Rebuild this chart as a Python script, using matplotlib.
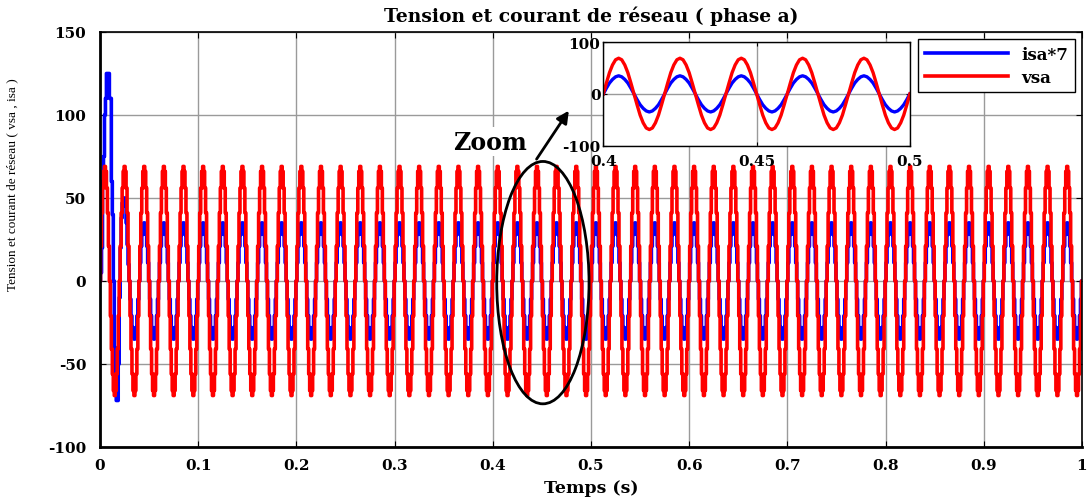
import numpy as np
import matplotlib
matplotlib.use('Agg')
import matplotlib.pyplot as plt
from matplotlib.patches import Ellipse

vsa_period = [0, 21, 41, 56, 66, 69, 66, 56, 41, 21,
              0, -21, -41, -56, -66, -69, -66, -56, -41, -21]
isa7_period = [0, 11, 21, 28, 33, 35, 33, 28, 21, 11,
               0, -11, -21, -28, -33, -35, -33, -28, -21, -11]
# start-up transient of isa*7 for the first 30 ms
isa7_start = [0, 5, 20, 60, 75, 100, 110, 125, 125, 125,
              110, 110, 60, 40, 0, -40, -65, -72, -72, -50,
              -10, 20, 38, 47, 50, 50, 45, 35, 22, 10]
dt = 0.001
n_periods = 50

xticks = [0, 0.1, 0.2, 0.3, 0.4, 0.5, 0.6, 0.7, 0.8, 0.9, 1]
xtick_labels = ['0', '0.1', '0.2', '0.3', '0.4', '0.5', '0.6', '0.7', '0.8', '0.9', '1']
yticks = [-100, -50, 0, 50, 100, 150]
ins_xticks = [0.4, 0.45, 0.5]
ins_xtick_labels = ['0.4', '0.45', '0.5']
ins_yticks = [-100, 0, 100]

# build the series
vsa = np.append(np.tile(vsa_period, n_periods), vsa_period[0])
isa7 = np.append(np.tile(isa7_period, n_periods), isa7_period[0]).astype(float)
isa7[:len(isa7_start)] = isa7_start
t = np.arange(len(vsa)) * dt

bold = dict(family='DejaVu Serif', weight='bold')

fig = plt.figure(figsize=(10.91, 5.02), dpi=100)
ax = fig.add_axes([0.0917, 0.1076, 0.9, 0.8267])

ax.plot(t, isa7, color='#0000ff', lw=2.6, drawstyle='steps-mid', label='isa*7')
ax.plot(t, vsa, color='#ff0000', lw=2.6, drawstyle='steps-mid', label='vsa')

ax.set_xlim(0, 1)
ax.set_ylim(-100, 150)
ax.set_xticks(xticks)
ax.set_xticklabels(xtick_labels, fontsize=11, **bold)
ax.set_yticks(yticks)
ax.set_yticklabels([str(v) for v in yticks], fontsize=11, **bold)
ax.tick_params(direction='in', top=True, right=True, length=4)
ax.tick_params(axis='x', pad=8)
ax.tick_params(axis='y', pad=10)
ax.grid(True, color='#9a9a9a', lw=1)
ax.set_axisbelow(True)
for s in ['left', 'bottom']:
    ax.spines[s].set_linewidth(2)
for s in ['top', 'right']:
    ax.spines[s].set_linewidth(1.2)

ax.set_title('Tension et courant de réseau ( phase a)', fontsize=13.5, pad=8, **bold)
ax.set_xlabel('Temps (s)', fontsize=12.5, labelpad=5, **bold)
ax.set_ylabel('Tension et courant de réseau ( vsa , isa )', family='Liberation Serif',
              fontsize=9.5)
ax.yaxis.set_label_coords(-0.083, 0.634)

# zoom marker
ax.add_patch(Ellipse((0.451, -1), 0.094, 146, fill=False, lw=2, color='black', zorder=5))
ax.annotate('', xy=(0.479, 104), xytext=(0.443, 72),
            arrowprops=dict(arrowstyle='-|>', lw=2, color='black', mutation_scale=18))
ax.text(0.3975, 84, 'Zoom', fontsize=17, ha='center', va='center', zorder=6,
        bbox=dict(facecolor='white', edgecolor='none', pad=2), **bold)

leg = ax.legend(loc='upper right', bbox_to_anchor=(0.9853, 0.920), bbox_transform=fig.transFigure,
                fancybox=False, edgecolor='black', framealpha=1, handlelength=5,
                borderaxespad=0, labelspacing=0.35,
                prop=dict(family='DejaVu Serif', weight='bold', size=12))
leg.get_frame().set_linewidth(1)
leg.set_zorder(10)

# inset
axins = fig.add_axes([0.553, 0.708, 0.281, 0.206])
mask = (t >= 0.4) & (t <= 0.5 + 1e-9)
axins.plot(t[mask], isa7[mask], color='#0000ff', lw=2.4)
axins.plot(t[mask], vsa[mask], color='#ff0000', lw=2.4)
axins.set_xlim(0.4, 0.5)
axins.set_ylim(-100, 100)
axins.set_xticks(ins_xticks)
axins.set_xticklabels(ins_xtick_labels, fontsize=11, **bold)
axins.set_yticks(ins_yticks)
axins.set_yticklabels([str(v) for v in ins_yticks], fontsize=11, **bold)
axins.tick_params(direction='in', top=True, right=True, length=3, pad=2)
axins.tick_params(axis='x', pad=6)
axins.grid(True, color='#9a9a9a', lw=1)
for s in axins.spines.values():
    s.set_linewidth(1)

fig.savefig('out.png', dpi=100)
